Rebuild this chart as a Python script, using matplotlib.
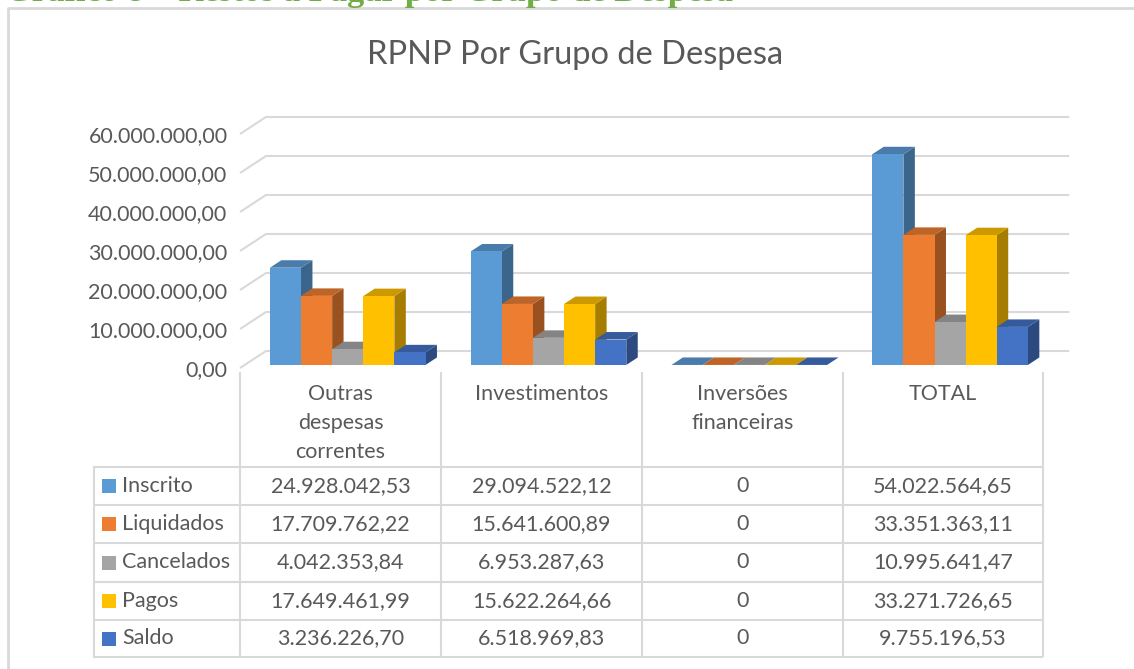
import matplotlib
matplotlib.use('Agg')
import matplotlib.pyplot as plt
from matplotlib.patches import Polygon, Rectangle
import numpy as np

plt.rcParams['font.family'] = ['Lato', 'DejaVu Sans']

# Restos a pagar nao processados por grupo de despesa
categorias = ['Outras\ndespesas\ncorrentes', 'Investimentos', 'Inversões\nfinanceiras', 'TOTAL']
series = ['Inscrito', 'Liquidados', 'Cancelados', 'Pagos', 'Saldo']
inscrito = [24928042.53, 29094522.12, 0, 54022564.65]
liquidados = [17709762.22, 15641600.89, 0, 33351363.11]
cancelados = [4042353.84, 6953287.63, 0, 10995641.47]
pagos = [17649461.99, 15622264.66, 0, 33271726.65]
saldo = [3236226.70, 6518969.83, 0, 9755196.53]
y_ticks = [0, 10e6, 20e6, 30e6, 40e6, 50e6, 60e6]

valores = [inscrito, liquidados, cancelados, pagos, saldo]
cores = ['#5B9BD5', '#ED7D31', '#A5A5A5', '#FFC000', '#4472C4']
TXT = '#595959'
GRID = '#D9D9D9'
FS = 15.5


def fmt_br(v, zero_plain=False):
    if zero_plain and v == 0:
        return '0'
    s = f'{v:,.2f}'
    return s.replace(',', '_').replace('.', ',').replace('_', '.')


def shade(c, f):
    r, g, b = matplotlib.colors.to_rgb(c)
    return (r * f, g * f, b * f)


W, H = 1134, 669
fig = plt.figure(figsize=(W / 100, H / 100), dpi=100)

# layout axes in pixel units (frame, title, data table)
lay = fig.add_axes([0, 0, 1, 1])
lay.set_xlim(0, W)
lay.set_ylim(H, 0)
lay.axis('off')

# chart axes: x in category columns, y in reais
COL_X = [240, 441, 642, 843, 1043]
PX_COL = 200.8
FLOOR_Y = 368
PX_Y = 234 / 60e6
DEPTH = (26 / PX_COL, 17 / PX_Y)   # full wall depth in data units

xl, xr = 0, 4.3
yb, yt = -1e6, 66e6
left_px = COL_X[0] + xl * PX_COL
right_px = COL_X[0] + xr * PX_COL
top_px = FLOOR_Y - yt * PX_Y
bot_px = FLOOR_Y - yb * PX_Y
ax = fig.add_axes([left_px / W, 1 - bot_px / H, (right_px - left_px) / W, (bot_px - top_px) / H])
ax.set_xlim(xl, xr)
ax.set_ylim(yb, yt)
ax.patch.set_visible(False)
for s in ax.spines.values():
    s.set_visible(False)
ax.set_xticks([])
ax.set_yticks(y_ticks)
ax.set_yticklabels([fmt_br(v) for v in y_ticks])
ax.tick_params(axis='y', length=0, pad=9, labelsize=FS, labelcolor=TXT)


def proj(x, y, z):
    return (x + z * DEPTH[0], y + z * DEPTH[1])


# back wall gridlines with the left wall diagonal
n = len(categorias)
for v in y_ticks:
    pts = [proj(0, v, 0), proj(0, v, 1), proj(n, v, 1)]
    ax.plot([p[0] for p in pts], [p[1] for p in pts], color=GRID, lw=1.5,
            solid_capstyle='butt', clip_on=False, zorder=1)

# 3D columns
bw = 0.155
z0, z1 = 0.18, 0.62
for i in range(n):
    start = i + 0.5 - 2.5 * bw + 0.013
    for j, vals in enumerate(valores):
        v = vals[i]
        a = start + j * bw
        b = a + bw
        c = cores[j]
        side = [proj(b, 0, z0), proj(b, 0, z1), proj(b, v, z1), proj(b, v, z0)]
        top = [proj(a, v, z0), proj(b, v, z0), proj(b, v, z1), proj(a, v, z1)]
        front = [proj(a, 0, z0), proj(b, 0, z0), proj(b, v, z0), proj(a, v, z0)]
        ax.add_patch(Polygon(side, closed=True, fc=shade(c, 0.65), ec='none', zorder=2))
        ax.add_patch(Polygon(top, closed=True, fc=shade(c, 0.8), ec='none', zorder=2))
        ax.add_patch(Polygon(front, closed=True, fc=c, ec='none', zorder=2))

# chart frame and headings
lay.plot([8, 8, W + 5], [H + 5, 8, 8], color=GRID, lw=2, solid_capstyle='butt')
lay.text(5, 1.5, 'Gráfico 8 – Restos a Pagar por Grupo de Despesa', fontsize=24.8,
         fontweight='bold', family='Liberation Serif', color='#70AD47',
         ha='left', va='baseline')
lay.text(575, 55, 'RPNP Por Grupo de Despesa', fontsize=23.5, color=TXT,
         ha='center', va='center')

# data table
ROWS = [467, 505, 543, 582, 620, 657]
TBL_L = 94
for y in ROWS:
    lay.plot([TBL_L, COL_X[-1]], [y, y], color=GRID, lw=1.5, solid_capstyle='butt')
lay.plot([TBL_L, TBL_L], [ROWS[0], ROWS[-1]], color=GRID, lw=1.5)
for x in COL_X:
    lay.plot([x, x], [372, ROWS[-1]], color=GRID, lw=1.5, solid_capstyle='butt')

for i, cat in enumerate(categorias):
    cx = (COL_X[i] + COL_X[i + 1]) / 2
    lay.text(cx, 384, cat, ha='center', va='top', fontsize=FS, color=TXT,
             linespacing=1.55)

for j, (nome, vals) in enumerate(zip(series, valores)):
    yc = (ROWS[j] + ROWS[j + 1]) / 2
    lay.add_patch(Rectangle((102, yc - 7), 14, 14, fc=cores[j], ec='none'))
    lay.text(122, yc, nome, ha='left', va='center', fontsize=FS, color=TXT)
    for i, v in enumerate(vals):
        cx = (COL_X[i] + COL_X[i + 1]) / 2
        lay.text(cx, yc, fmt_br(v, zero_plain=True), ha='center', va='center',
                 fontsize=FS, color=TXT)

fig.savefig('out.png', dpi=100)
